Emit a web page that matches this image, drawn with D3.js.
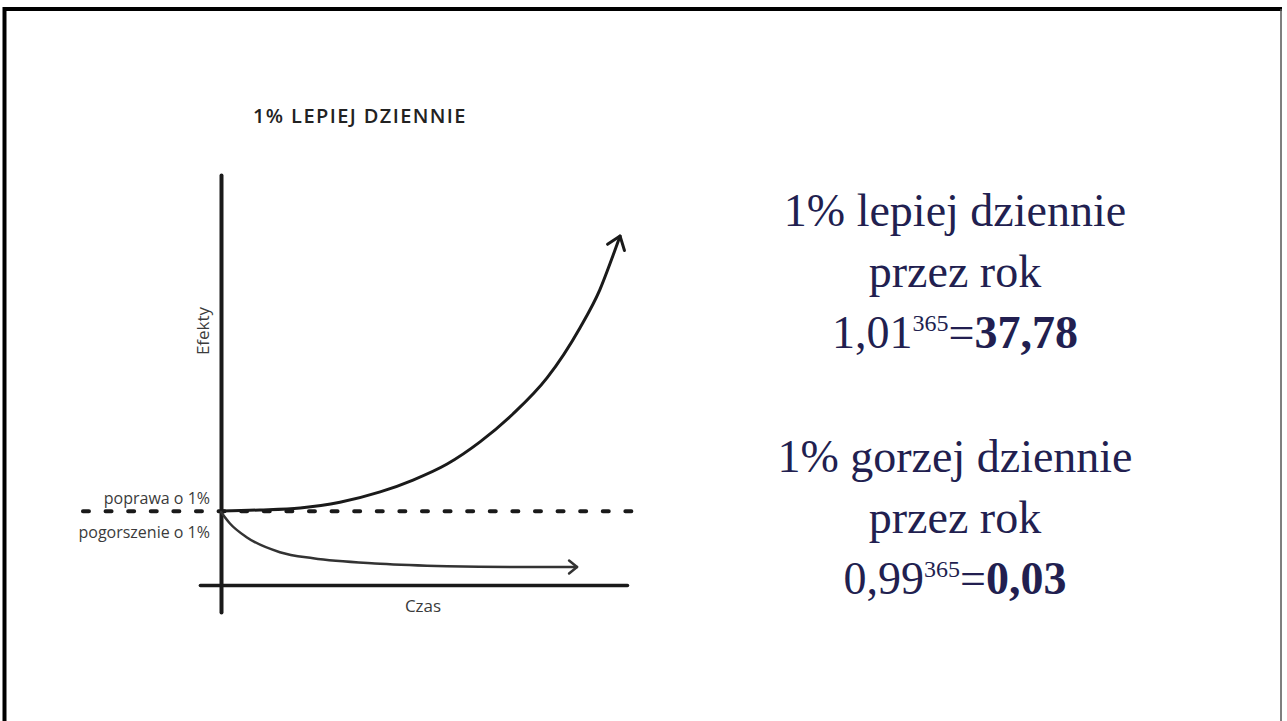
<!DOCTYPE html>
<html>
<head>
<meta charset="utf-8">
<script src="https://cdn.jsdelivr.net/npm/d3@7"></script>
<style>
  html, body { margin: 0; padding: 0; background: #fff; }
  svg { display: block; }
</style>
</head>
<body>
<svg id="chart" width="1287" height="721"></svg>
<script>
// values (time 0..100, effect 0..100, baseline = 18)
const BASELINE = 18;
const improveCurve = [[0, 18.05], [9.6, 18.3], [19.5, 18.8], [29.3, 20.2], [39.2, 22.7], [47.3, 25.6],
  [55.7, 29.5], [63.8, 34.9], [71.9, 41.7], [80.3, 50.5], [88.4, 62.7], [93.3, 72.0], [96.6, 80.5], [98.3, 85.1]];
const declineCurve = [[0, 17.8], [2.2, 15.0], [6.4, 11.6], [14.5, 8.0], [22.7, 6.5],
  [39.2, 5.2], [55.7, 4.6], [71.9, 4.4], [87.7, 4.4]];
const dashedExtent = [-34, 101.2];
const timeExtent = [-5.2, 100];
const effectExtent = [-6.6, 100];

const chartTitle = '1% LEPIEJ DZIENNIE';
const axisLabels = { x: 'Czas', y: 'Efekty' };
const baselineLabels = ['poprawa o 1%', 'pogorszenie o 1%'];

const blocks = [
  { lines: ['1% lepiej dziennie', 'przez rok'], base: '1,01', exp: '365', result: '37,78' },
  { lines: ['1% gorzej dziennie', 'przez rok'], base: '0,99', exp: '365', result: '0,03' },
];

const INK = '#1a1a1a';
const LABEL = '#3b3b3b';
const NAVY = '#221f50';

const svg = d3.select('#chart');

// slide frame
svg.append('path')
  .attr('d', 'M4.5,721 V9 H1282')
  .attr('fill', 'none')
  .attr('stroke', '#000')
  .attr('stroke-width', 4);
svg.append('line')
  .attr('x1', 1281).attr('x2', 1281).attr('y1', 9).attr('y2', 721)
  .attr('stroke', '#555').attr('stroke-width', 1.5);

const x = d3.scaleLinear().domain([0, 100]).range([221, 627]);
const y = d3.scaleLinear().domain([0, 100]).range([585, 175]);

const g = svg.append('g');
const sans = '"Open Sans", Lato, sans-serif';

svg.append('text')
  .attr('x', 253).attr('y', 123)
  .attr('font-family', sans)
  .attr('font-weight', 600)
  .attr('font-size', 20)
  .attr('letter-spacing', 1.4)
  .attr('fill', '#222')
  .text(chartTitle);

// axes (no ticks, just the lines)
const xAxisScale = d3.scaleLinear().domain(timeExtent).range(timeExtent.map(x));
const yAxisScale = d3.scaleLinear().domain(effectExtent).range(effectExtent.map(y));

const xAxis = g.append('g')
  .attr('transform', `translate(0,${y(0)})`)
  .call(d3.axisBottom(xAxisScale).tickValues([]).tickSizeOuter(0));
const yAxis = g.append('g')
  .attr('transform', `translate(${x(0)},0)`)
  .call(d3.axisLeft(yAxisScale).tickValues([]).tickSizeOuter(0));

xAxis.select('.domain').attr('stroke', INK).attr('stroke-width', 3.5).attr('stroke-linecap', 'round');
yAxis.select('.domain').attr('stroke', INK).attr('stroke-width', 4).attr('stroke-linecap', 'round');

// dashed baseline
g.append('line')
  .attr('x1', x(dashedExtent[0])).attr('x2', x(dashedExtent[1]))
  .attr('y1', y(BASELINE)).attr('y2', y(BASELINE))
  .attr('stroke', INK)
  .attr('stroke-width', 4)
  .attr('stroke-linecap', 'round')
  .attr('stroke-dasharray', '6 16.6');

// arrow markers
const defs = svg.append('defs');
defs.append('marker')
  .attr('id', 'head-big')
  .attr('viewBox', '-16 -11 18 22')
  .attr('markerUnits', 'userSpaceOnUse')
  .attr('markerWidth', 18).attr('markerHeight', 22)
  .attr('refX', 0).attr('refY', 0)
  .attr('orient', 'auto')
  .append('path')
  .attr('d', 'M-12,-9 L0,0 L-12,9')
  .attr('fill', 'none').attr('stroke', INK).attr('stroke-width', 3)
  .attr('stroke-linecap', 'round').attr('stroke-linejoin', 'round');
defs.append('marker')
  .attr('id', 'head-small')
  .attr('viewBox', '-12 -9 14 18')
  .attr('markerUnits', 'userSpaceOnUse')
  .attr('markerWidth', 14).attr('markerHeight', 18)
  .attr('refX', 0).attr('refY', 0)
  .attr('orient', 'auto')
  .append('path')
  .attr('d', 'M-8,-6.5 L0,0 L-8,6.5')
  .attr('fill', 'none').attr('stroke', '#333').attr('stroke-width', 2.5)
  .attr('stroke-linecap', 'round').attr('stroke-linejoin', 'round');

const line = d3.line()
  .x(d => x(d[0]))
  .y(d => y(d[1]))
  .curve(d3.curveMonotoneX);

g.append('path')
  .datum(improveCurve)
  .attr('d', line)
  .attr('fill', 'none')
  .attr('stroke', INK)
  .attr('stroke-width', 3)
  .attr('stroke-linecap', 'round')
  .attr('marker-end', 'url(#head-big)');

g.append('path')
  .datum(declineCurve)
  .attr('d', line)
  .attr('fill', 'none')
  .attr('stroke', '#333')
  .attr('stroke-width', 2.5)
  .attr('stroke-linecap', 'round')
  .attr('marker-end', 'url(#head-small)');

// labels
g.append('text')
  .attr('x', 210).attr('y', 504)
  .attr('text-anchor', 'end')
  .attr('font-family', sans).attr('font-size', 16).attr('fill', LABEL)
  .text(baselineLabels[0]);
g.append('text')
  .attr('x', 210).attr('y', 538)
  .attr('text-anchor', 'end')
  .attr('font-family', sans).attr('font-size', 16).attr('fill', LABEL)
  .text(baselineLabels[1]);
g.append('text')
  .attr('x', 423).attr('y', 612)
  .attr('text-anchor', 'middle')
  .attr('font-family', sans).attr('font-size', 17).attr('fill', LABEL)
  .text(axisLabels.x);
g.append('text')
  .attr('transform', 'translate(209,331) rotate(-90)')
  .attr('text-anchor', 'middle')
  .attr('font-family', sans).attr('font-size', 17).attr('fill', LABEL)
  .text(axisLabels.y);

// right-hand text blocks
const serif = '"Liberation Serif", "DejaVu Serif", serif';
const CX = 955;
const blockTops = [226, 472];
const lineGap = 61;

blocks.forEach((b, i) => {
  const top = blockTops[i];
  b.lines.forEach((s, j) => {
    svg.append('text')
      .attr('x', CX).attr('y', top + j * lineGap)
      .attr('text-anchor', 'middle')
      .attr('font-family', serif).attr('font-size', 46).attr('fill', NAVY)
      .text(s);
  });
  const t = svg.append('text')
    .attr('x', CX).attr('y', top + 2 * lineGap)
    .attr('text-anchor', 'middle')
    .attr('font-family', serif).attr('font-size', 46).attr('fill', NAVY);
  t.append('tspan').text(b.base);
  t.append('tspan').attr('font-size', 24).attr('dy', -17).text(b.exp);
  t.append('tspan').attr('dy', 17).text('=');
  t.append('tspan').attr('font-weight', 700).text(b.result);
});
</script>
</body>
</html>
